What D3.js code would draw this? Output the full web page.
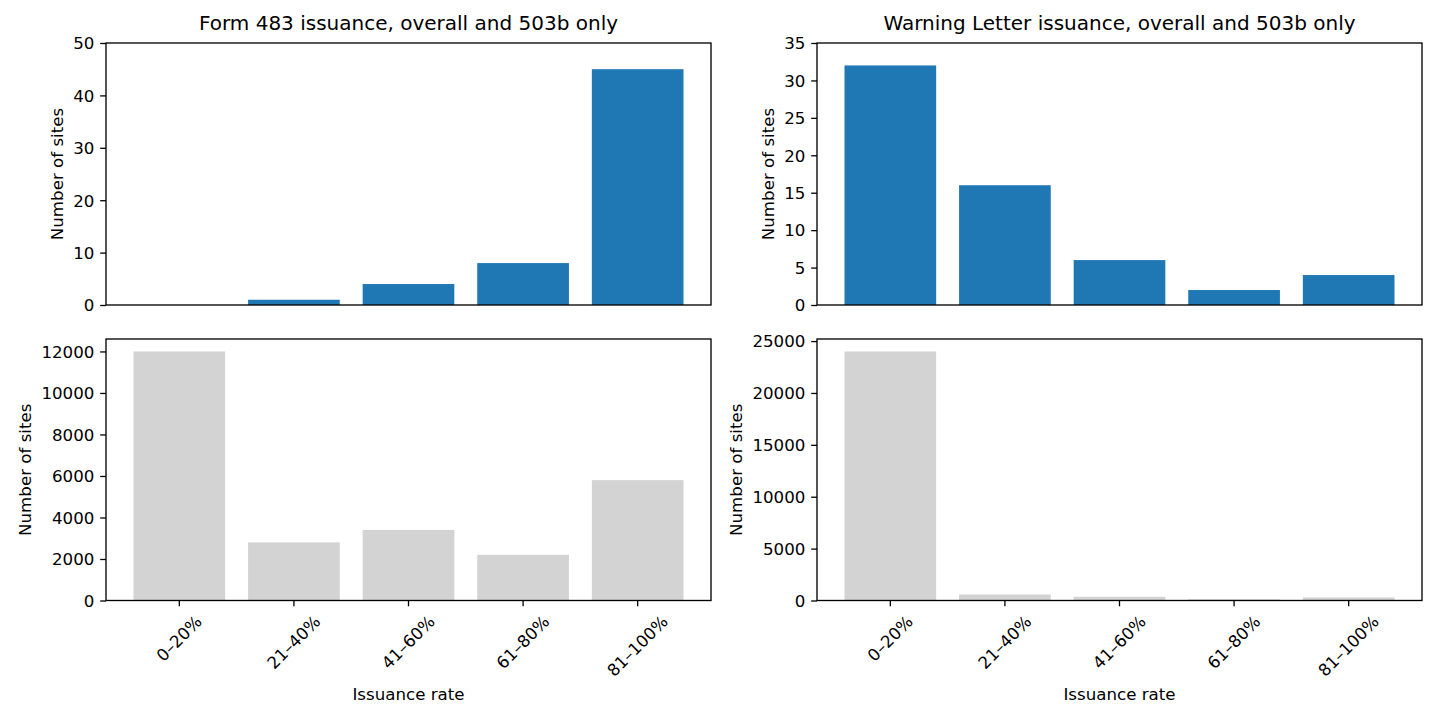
<!DOCTYPE html>
<html>
<head>
<meta charset="utf-8">
<script src="https://cdn.jsdelivr.net/npm/d3@7"></script>
<style>
  body { margin: 0; background: #fff; }
  text { font-family: "DejaVu Sans", sans-serif; fill: #000; }
</style>
</head>
<body>
<div id="chart"></div>
<script>
var categories = ["0–20%", "21–40%", "41–60%", "61–80%", "81–100%"];

// 503b only sites
var form483Sites503b = [0, 1, 4, 8, 45];
var warningSites503b = [32, 16, 6, 2, 4];

// all sites
var form483SitesAll = [12000, 2800, 3400, 2200, 5800];
var warningSitesAll = [24000, 580, 360, 120, 290];

var form483TicksTop = [0, 10, 20, 30, 40, 50];
var warningTicksTop = [0, 5, 10, 15, 20, 25, 30, 35];
var form483TicksAll = [0, 2000, 4000, 6000, 8000, 10000, 12000];
var warningTicksAll = [0, 5000, 10000, 15000, 20000, 25000];

var titles = ["Form 483 issuance, overall and 503b only", "Warning Letter issuance, overall and 503b only"];

var fontSize = 16.67;
var tickLen = 5.8;
var tickPad = 5.8;

var svg = d3.select("#chart").append("svg")
    .attr("width", 1440)
    .attr("height", 720);

/**
* Draws one axes box with its bars
*/
function drawPanel(opts){
    var xScale = d3.scaleBand()
        .domain(categories)
        .range([opts.left, opts.right])
        .paddingInner(0.2)
        .paddingOuter(0.24);
    var yScale = d3.scaleLinear()
        .domain([0, opts.yMax])
        .range([opts.bottom, opts.top]);

    var g = svg.append("g");

    g.selectAll("rect.bar")
        .data(opts.values)
        .enter().append("rect")
        .attr("class", "bar")
        .attr("x", function(d, i){ return xScale(categories[i]); })
        .attr("width", xScale.bandwidth())
        .attr("y", function(d){ return yScale(d); })
        .attr("height", function(d){ return yScale(0) - yScale(d); })
        .style("fill", opts.color);

    // y axis
    var yAxis = g.append("g")
        .attr("transform", "translate(" + opts.left + ",0)")
        .call(d3.axisLeft(yScale)
            .tickValues(opts.ticks)
            .tickFormat(d3.format("d"))
            .tickSize(tickLen)
            .tickPadding(tickPad));
    yAxis.select(".domain").remove();
    yAxis.selectAll("line").attr("stroke", "#000").attr("stroke-width", 1.3);
    yAxis.selectAll("text").style("font-size", fontSize + "px").attr("dy", "0.35em");

    // x axis ticks only on the lower panels
    if(opts.showX){
        var xAxis = g.append("g")
            .attr("transform", "translate(0," + opts.bottom + ")")
            .call(d3.axisBottom(xScale).tickSize(tickLen).tickFormat(""));
        xAxis.select(".domain").remove();
        xAxis.selectAll("line").attr("stroke", "#000").attr("stroke-width", 1.3);

        categories.forEach(function(c){
            var t = g.append("text")
                .text(c)
                .style("font-size", fontSize + "px")
                .attr("text-anchor", "middle")
                .attr("dominant-baseline", "central");
            var w = t.node().getComputedTextLength();
            var cy = opts.bottom + tickLen + tickPad + (w + 19.5) * 0.3535;
            t.attr("transform", "translate(" + (xScale(c) + xScale.bandwidth() / 2) + "," + cy + ") rotate(-45)");
        });

        g.append("text")
            .attr("x", (opts.left + opts.right) / 2)
            .attr("y", 700)
            .attr("text-anchor", "middle")
            .style("font-size", fontSize + "px")
            .text("Issuance rate");
    }

    // frame
    g.append("rect")
        .attr("x", opts.left)
        .attr("y", opts.top)
        .attr("width", opts.right - opts.left)
        .attr("height", opts.bottom - opts.top)
        .attr("fill", "none")
        .attr("stroke", "#000")
        .attr("stroke-width", 1.33);

    // y label sits left of the widest tick label
    var box = yAxis.node().getBBox();
    g.append("text")
        .attr("transform", "translate(" + (opts.left + box.x - 10.6) + "," + ((opts.top + opts.bottom) / 2) + ") rotate(-90)")
        .attr("text-anchor", "middle")
        .style("font-size", fontSize + "px")
        .text("Number of sites");

    if(opts.title){
        g.append("text")
            .attr("x", (opts.left + opts.right) / 2)
            .attr("y", 30)
            .attr("text-anchor", "middle")
            .style("font-size", "20px")
            .text(opts.title);
    }
}

drawPanel({left: 106, right: 711, top: 43, bottom: 305, yMax: 50, ticks: form483TicksTop,
    values: form483Sites503b, color: "#1f77b4", title: titles[0], showX: false});
drawPanel({left: 817, right: 1422, top: 43, bottom: 305, yMax: 35, ticks: warningTicksTop,
    values: warningSites503b, color: "#1f77b4", title: titles[1], showX: false});
drawPanel({left: 106, right: 711, top: 339, bottom: 600.5, yMax: 12600, ticks: form483TicksAll,
    values: form483SitesAll, color: "#d3d3d3", showX: true});
drawPanel({left: 817, right: 1422, top: 339, bottom: 600.5, yMax: 25200, ticks: warningTicksAll,
    values: warningSitesAll, color: "#d3d3d3", showX: true});
</script>
</body>
</html>
